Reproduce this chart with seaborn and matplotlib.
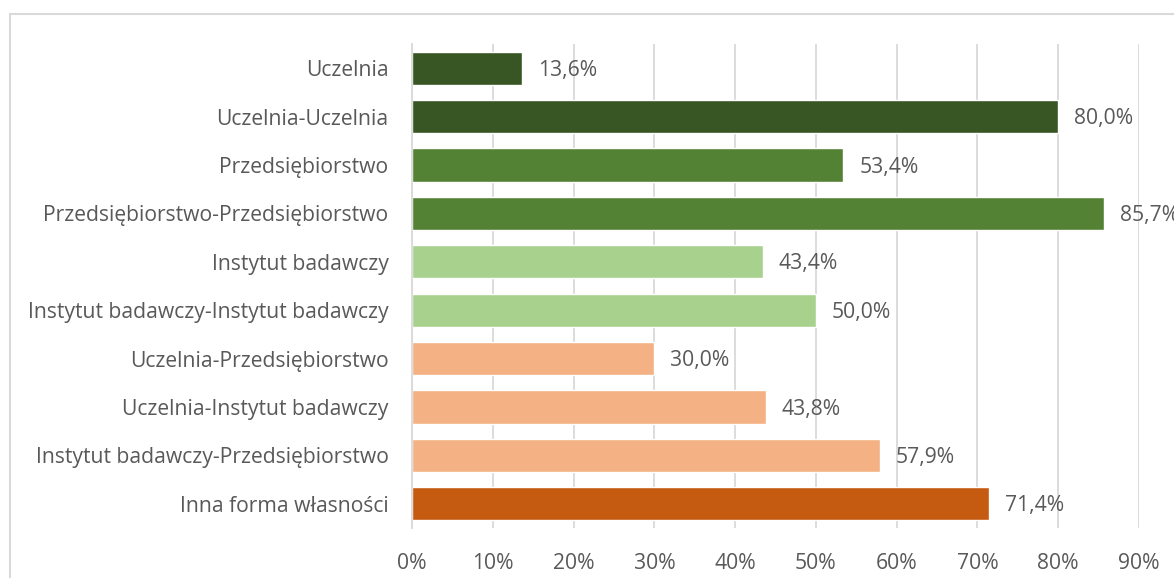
import matplotlib
matplotlib.use("Agg")
import matplotlib.pyplot as plt
from matplotlib.patches import Rectangle
import seaborn as sns
import pandas as pd

categories = [
    "Uczelnia",
    "Uczelnia-Uczelnia",
    "Przedsiębiorstwo",
    "Przedsiębiorstwo-Przedsiębiorstwo",
    "Instytut badawczy",
    "Instytut badawczy-Instytut badawczy",
    "Uczelnia-Przedsiębiorstwo",
    "Uczelnia-Instytut badawczy",
    "Instytut badawczy-Przedsiębiorstwo",
    "Inna forma własności",
]
values = [13.6, 80.0, 53.4, 85.7, 43.4, 50.0, 30.0, 43.8, 57.9, 71.4]
colors = ["#375623", "#375623", "#548235", "#548235", "#A9D18E",
          "#A9D18E", "#F4B183", "#F4B183", "#F4B183", "#C55A11"]
x_ticks = [0, 10, 20, 30, 40, 50, 60, 70, 80, 90]

sns.set_theme(style="white")
plt.rcParams["font.family"] = ["Open Sans", "DejaVu Sans"]
text_color = "#595959"
fs = 15.2

df = pd.DataFrame({"cat": categories, "val": values})

W, H = 1174, 578
fig = plt.figure(figsize=(W / 100, H / 100), dpi=100)
ax = fig.add_axes([412 / W, 1 - 528 / H, (1139 - 412) / W, (528 - 44) / H])

sns.barplot(data=df, x="val", y="cat", hue="cat", palette=colors,
            legend=False, width=0.69, ax=ax, saturation=1, orient="h")

ax.set_xlim(0, 90)
ax.set_xticks(x_ticks)
ax.set_xticklabels([f"{t}%" for t in x_ticks])
ax.set_xlabel("")
ax.set_ylabel("")
ax.xaxis.grid(True, color="#D9D9D9", linewidth=1.3)
ax.set_axisbelow(True)
for s in ["top", "right", "bottom"]:
    ax.spines[s].set_visible(False)
ax.spines["left"].set_color("#D9D9D9")
ax.spines["left"].set_linewidth(1.3)
ax.tick_params(axis="both", length=0, labelsize=fs, colors=text_color)
ax.tick_params(axis="y", pad=17)
ax.tick_params(axis="x", pad=18)

for i, v in enumerate(values):
    ax.annotate(f"{v:.1f}%".replace(".", ","), xy=(v, i), xytext=(11.5, -1.5),
                textcoords="offset points", ha="left", va="center",
                fontsize=fs, color=text_color, annotation_clip=False)

fig.patches.append(Rectangle((10 / W, -0.1), 1.2, 1.1 - 14 / H,
                             transform=fig.transFigure, fill=False,
                             edgecolor="#D9D9D9", linewidth=1.5))

fig.savefig("out.png", dpi=100)
